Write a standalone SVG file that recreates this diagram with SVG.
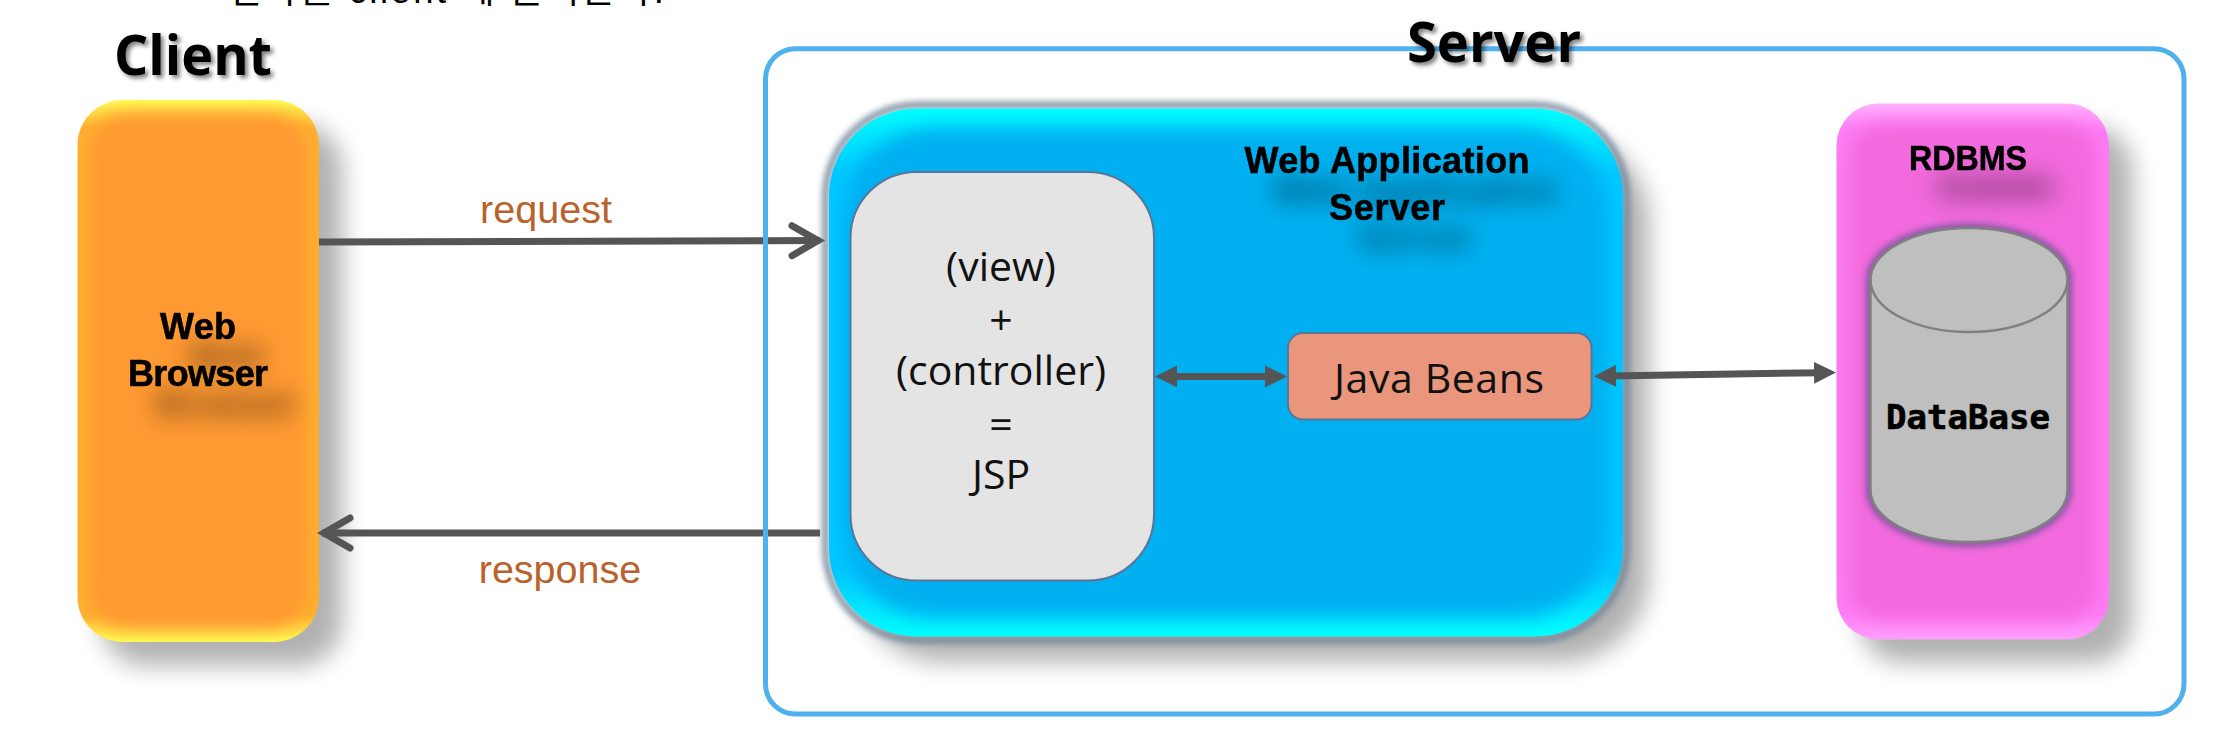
<svg xmlns="http://www.w3.org/2000/svg" width="2222" height="734" viewBox="0 0 2222 734">
<style>
.lbl{font-family:"Liberation Sans",Arial,sans-serif;font-size:39.500px;fill:#B9622B;text-anchor:middle}
.title{font-family:"Open Sans","Noto Sans",sans-serif;font-weight:700;font-size:56px;fill:#000;filter:url(#tsh)}
.bold{font-family:"Liberation Sans",Arial,sans-serif;font-weight:700;font-size:36px;fill:#000;stroke:#000;stroke-width:.6px;text-anchor:middle;filter:url(#ts)}
.reg{font-family:"Open Sans","Noto Sans",sans-serif;font-size:41px;fill:#111;text-anchor:middle}
.db{font-family:"DejaVu Sans Mono",monospace;font-weight:700;font-size:34px;fill:#000;stroke:#000;stroke-width:.7px;text-anchor:middle}
.shadow{fill:#000;opacity:.3;filter:url(#b12)}
.conn{stroke:#555;stroke-width:7;fill:none}
</style>
<defs>
<filter id="b12" x="-30%" y="-30%" width="160%" height="160%"><feGaussianBlur stdDeviation="12"/></filter>
<filter id="b9" x="-30%" y="-30%" width="160%" height="160%"><feGaussianBlur stdDeviation="9"/></filter>
<filter id="b3" x="-10%" y="-10%" width="120%" height="120%"><feGaussianBlur stdDeviation="3"/></filter>
<filter id="tsh" x="-20%" y="-20%" width="140%" height="150%"><feDropShadow dx="3" dy="3" stdDeviation="2" flood-color="#000" flood-opacity=".5"/></filter>
<filter id="ts" x="-40%" y="-80%" width="200%" height="400%"><feGaussianBlur in="SourceAlpha" stdDeviation="12"/><feOffset dx="28" dy="30"/><feComponentTransfer><feFuncA type="linear" slope=".5"/></feComponentTransfer><feMerge><feMergeNode/><feMergeNode in="SourceGraphic"/></feMerge></filter>
<linearGradient id="gClient" x1="0" y1="0" x2="0" y2="1"><stop offset="0" stop-color="#FFFF55"/><stop offset=".05" stop-color="#FFB030"/><stop offset=".95" stop-color="#FFB030"/><stop offset="1" stop-color="#FFFF55"/></linearGradient>
<linearGradient id="gWas" x1="0" y1="0" x2="0" y2="1"><stop offset="0" stop-color="#00FFFF"/><stop offset=".12" stop-color="#00C8FF"/><stop offset=".88" stop-color="#00C8FF"/><stop offset="1" stop-color="#00FFFF"/></linearGradient>
<linearGradient id="gDb" x1="0" y1="0" x2="0" y2="1"><stop offset="0" stop-color="#FFB0FF"/><stop offset=".05" stop-color="#FF7CF6"/><stop offset=".95" stop-color="#FF7CF6"/><stop offset="1" stop-color="#FFA0FF"/></linearGradient>
<clipPath id="cClient"><rect x="77.500" y="100" width="241.500" height="542" rx="45"/></clipPath>
<clipPath id="cWas"><rect x="829" y="108.500" width="794" height="528" rx="88"/></clipPath>
<clipPath id="cDb"><rect x="1836.500" y="103.500" width="272.500" height="536" rx="42"/></clipPath>
<marker id="open" markerUnits="userSpaceOnUse" markerWidth="44" markerHeight="44" viewBox="0 0 44 44" refX="32" refY="20" orient="auto-start-reverse"><path d="M4,5 L30,20 L4,35" fill="none" stroke="#555" stroke-width="7" stroke-linecap="round"/></marker>
<marker id="tri" markerUnits="userSpaceOnUse" markerWidth="22" markerHeight="22" viewBox="0 0 22 22" refX="7" refY="11" orient="auto-start-reverse"><path d="M0,0 L22,11 L0,22 Z" fill="#555"/></marker>
</defs>
<rect width="2222" height="734" fill="#fff"/>
<text id="cut-text" x="228" y="3" font-family="'Liberation Sans','Noto Sans CJK KR',sans-serif" font-size="36.500" fill="#000" textLength="436">결과를 client 에 돌려준다.</text>
<text class="title" x="114" y="75" textLength="158" lengthAdjust="spacingAndGlyphs">Client</text>

<g id="client">
<rect class="shadow" x="101" y="124" width="241.500" height="542" rx="45"/>
<rect x="77.500" y="100" width="241.500" height="542" rx="45" fill="url(#gClient)"/>
<g clip-path="url(#cClient)"><rect x="88" y="114" width="220" height="514" rx="40" fill="#FF9933" filter="url(#b9)"/></g>
<text class="bold" x="198" y="339" textLength="76">Web</text>
<text class="bold" x="198" y="386" textLength="140">Browser</text>
</g>

<g id="was">
<rect class="shadow" x="855" y="134" width="794" height="528" rx="88"/>
<rect x="825.500" y="105" width="801" height="535" rx="92" fill="none" stroke="#6F8498" stroke-width="6" filter="url(#b3)"/>
<rect x="829" y="108.500" width="794" height="528" rx="88" fill="url(#gWas)"/>
<g clip-path="url(#cWas)"><rect x="842" y="128" width="768" height="489" rx="92" fill="#00B0F0" filter="url(#b9)"/></g>
<text class="bold" x="1387" y="173" textLength="285">Web  Application</text>
<text class="bold" x="1387" y="220" textLength="116">Server</text>
</g>

<g id="jsp">
<rect x="850.500" y="172" width="303.500" height="408.500" rx="66" fill="#E4E4E4" stroke="#5B7499" stroke-width="2"/>
<text class="reg" x="1001" y="281">(view)</text>
<text class="reg" x="1001" y="335">+</text>
<text class="reg" x="1001" y="385">(controller)</text>
<text class="reg" x="1001" y="439">=</text>
<text class="reg" x="1001" y="489">JSP</text>
</g>

<g id="beans">
<rect x="1288" y="333" width="303.500" height="86.500" rx="15" fill="#EA967C" stroke="#5B7499" stroke-width="2"/>
<text class="reg" x="1439" y="393" textLength="210">Java Beans</text>
</g>

<g id="rdbms">
<rect class="shadow" x="1860" y="127" width="272.500" height="536" rx="42"/>
<rect x="1836.500" y="103.500" width="272.500" height="536" rx="42" fill="url(#gDb)"/>
<g clip-path="url(#cDb)"><rect x="1848" y="124" width="250" height="495" rx="34" fill="#F26BDD" filter="url(#b9)"/></g>
<text class="bold" x="1968" y="169.500" style="font-size:35px" textLength="118" lengthAdjust="spacingAndGlyphs">RDBMS</text>
</g>

<g id="database">
<path d="M1870.500,280 A98.500,52 0 0 1 2067.500,280 V490 A98.500,52 0 0 1 1870.500,490 Z" fill="none" stroke="#8A5AA5" stroke-width="10" filter="url(#b3)"/>
<path d="M1870.500,280 A98.500,52 0 0 1 2067.500,280 V490 A98.500,52 0 0 1 1870.500,490 Z" fill="#BFBFBF" stroke="#808080" stroke-width="2.500"/>
<path d="M1870.500,280 A98.500,52 0 0 0 2067.500,280" fill="none" stroke="#808080" stroke-width="2.500"/>
<text class="db" x="1968" y="429">DataBase</text>
</g>

<g id="connectors">
<line class="conn" x1="319" y1="242" x2="820" y2="240.600" marker-end="url(#open)"/>
<line class="conn" x1="820" y1="533" x2="322" y2="533" marker-end="url(#open)"/>
<line class="conn" x1="1170" y1="376.400" x2="1272" y2="376.400" marker-start="url(#tri)" marker-end="url(#tri)"/>
<line class="conn" x1="1609" y1="376" x2="1821" y2="372.700" marker-start="url(#tri)" marker-end="url(#tri)"/>
<text class="lbl" x="546" y="223">request</text>
<text class="lbl" x="560" y="583">response</text>
</g>

<g id="server-frame">
<rect x="765.500" y="48.700" width="1418.500" height="665.300" rx="30" fill="none" stroke="#4FB0EE" stroke-width="5"/>
<text class="title" x="1407" y="62" textLength="174" lengthAdjust="spacingAndGlyphs">Server</text>
</g>
</svg>
